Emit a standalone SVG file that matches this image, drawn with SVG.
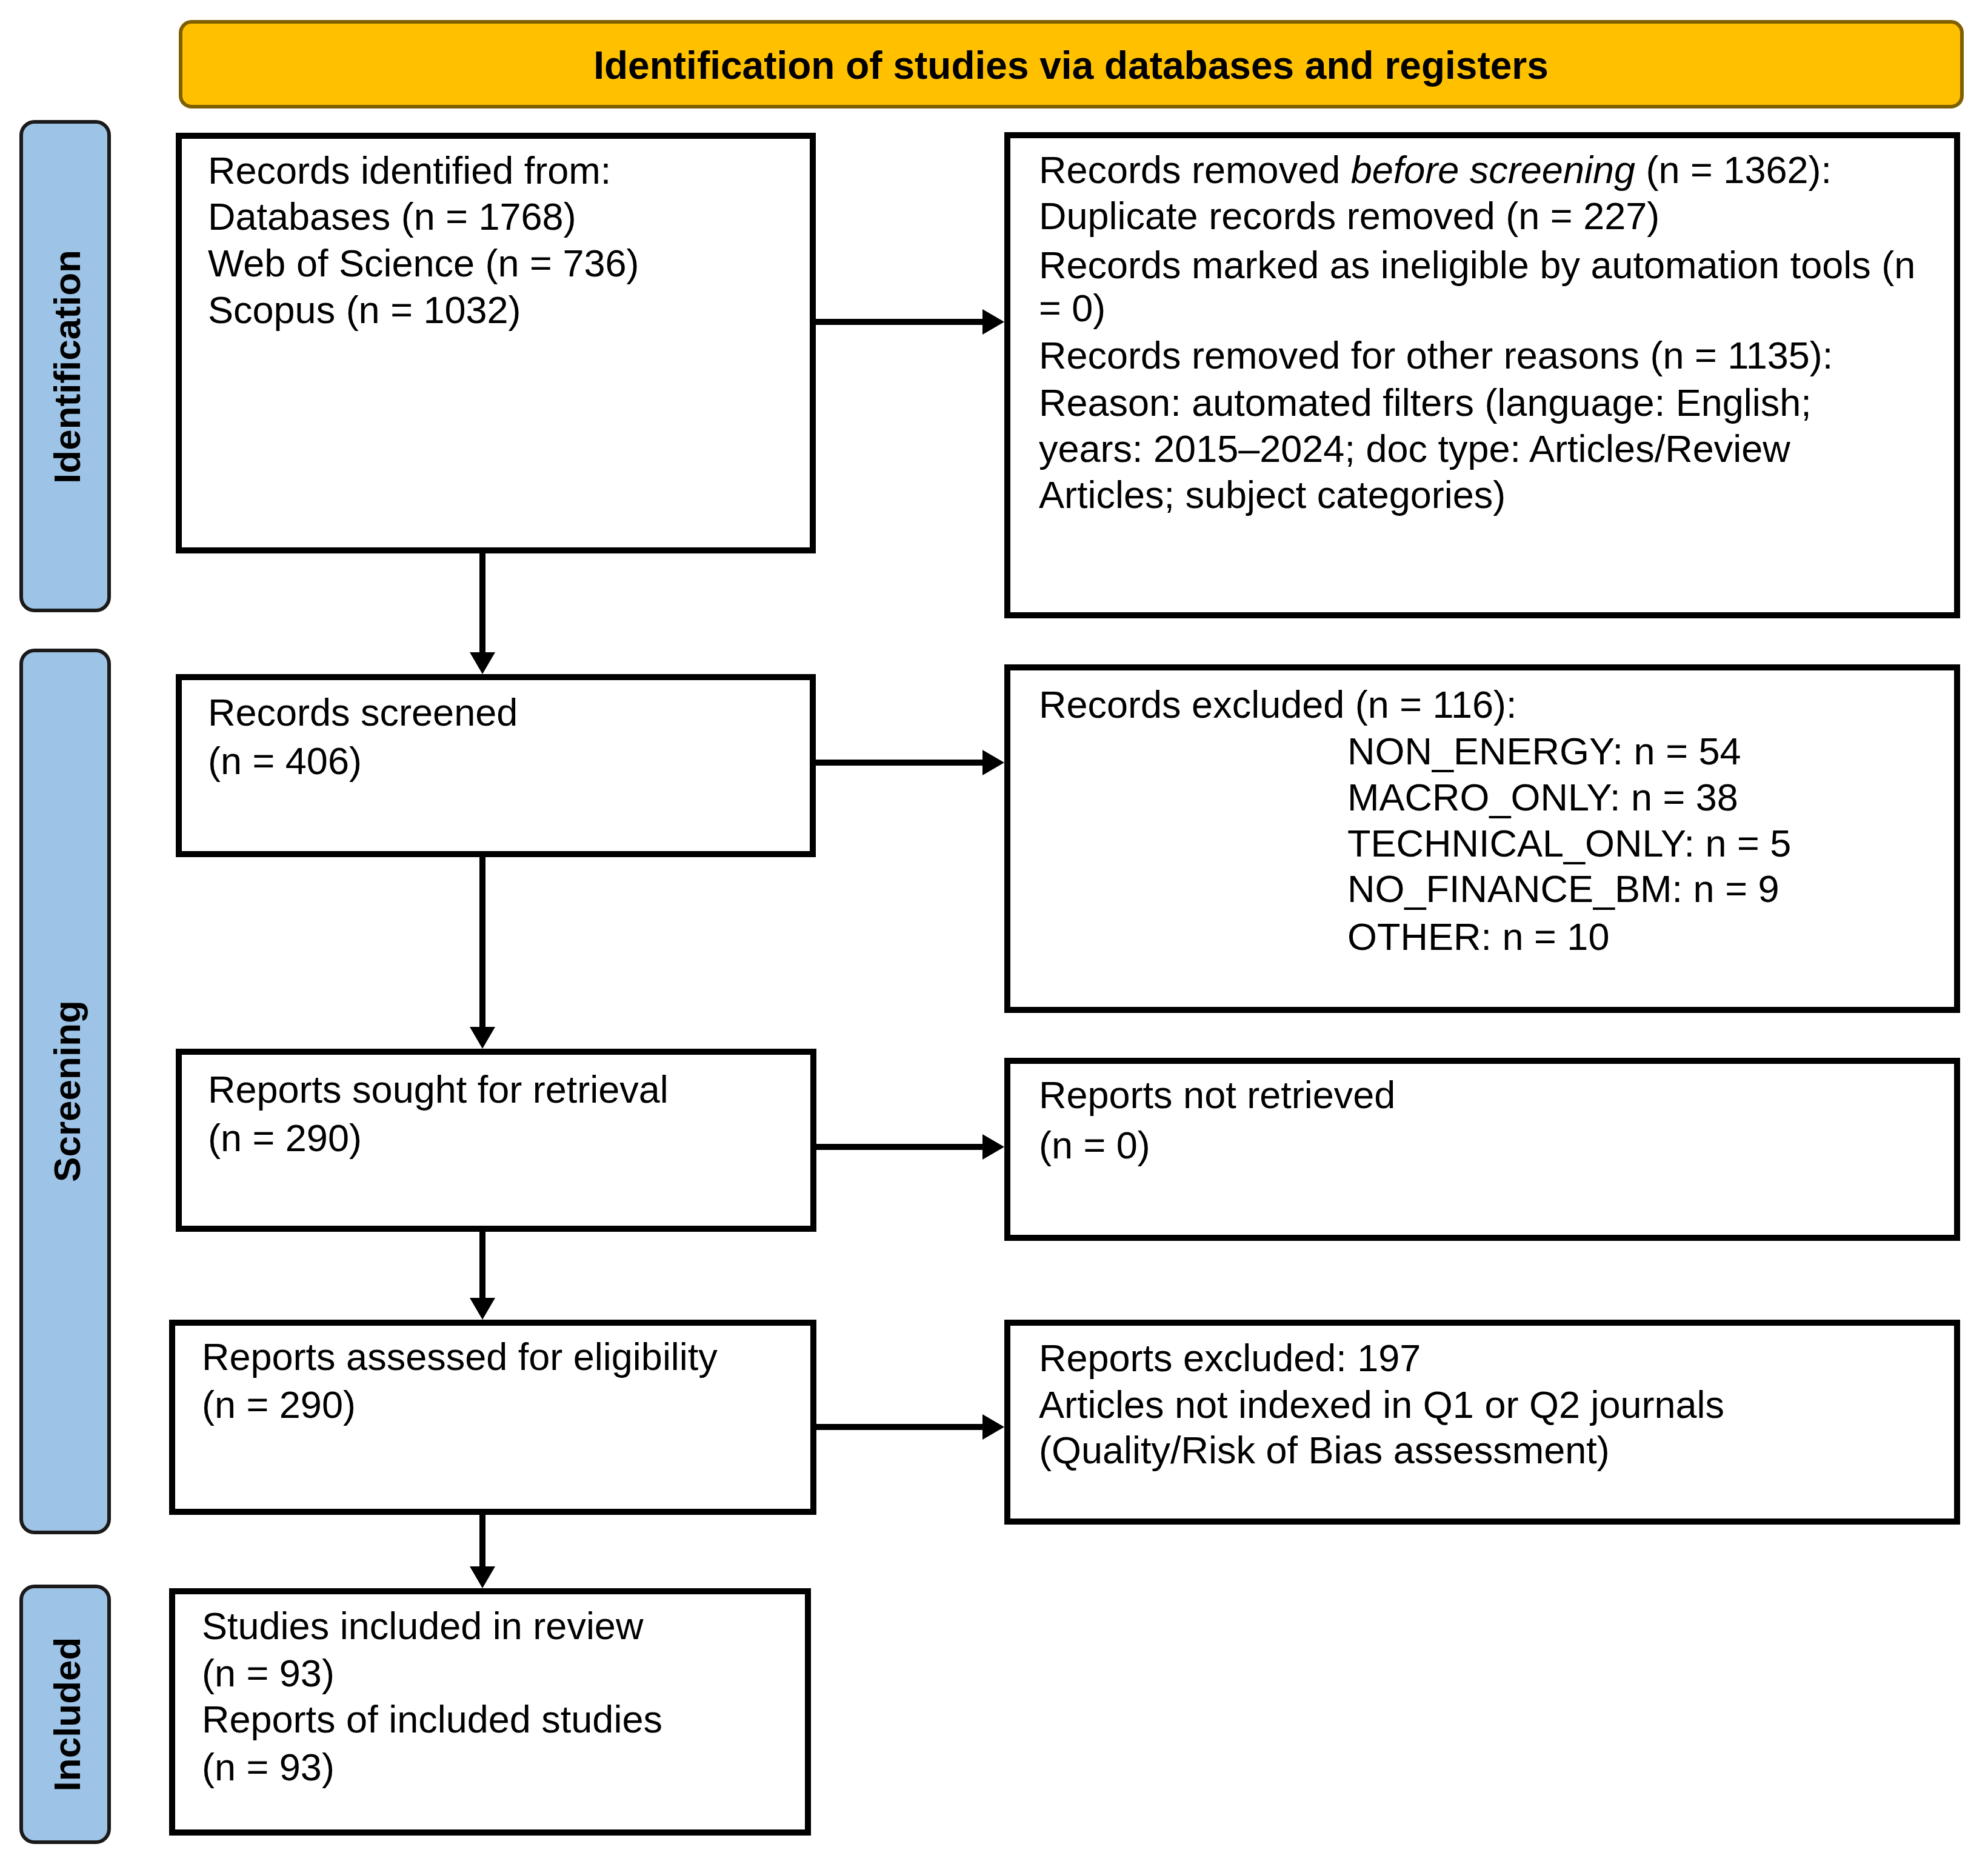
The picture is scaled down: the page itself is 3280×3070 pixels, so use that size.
<svg xmlns="http://www.w3.org/2000/svg" width="3280" height="3070" viewBox="0 0 3280 3070">
<style>
.box{fill:#fff;stroke:#000;stroke-width:10}
.side{fill:#9DC3E6;stroke:#1a1a1a;stroke-width:6}
.t{font-family:"Liberation Sans",Arial,sans-serif;font-size:63px;fill:#000}
.st{font-family:"Liberation Sans",Arial,sans-serif;font-size:62px;font-weight:bold;fill:#000;text-anchor:middle}
.hd{font-family:"Liberation Sans",Arial,sans-serif;font-size:64px;font-weight:bold;fill:#000;text-anchor:middle}
.ln{fill:none;stroke:#000;stroke-width:10}
</style>
<defs>
<marker id="arr" viewBox="0 0 36 42" refX="0" refY="21" markerWidth="36" markerHeight="42" markerUnits="userSpaceOnUse" orient="auto">
<path d="M0,0 L36,21 L0,42 Z" fill="#000"/>
</marker>
</defs>
<rect width="3280" height="3070" fill="#fff"/>

<g id="header">
<rect x="298" y="36" width="2939" height="140" rx="18" fill="#FFC000" stroke="#7F6000" stroke-width="6"/>
<text class="hd" x="1767" y="130">Identification of studies via databases and registers</text>
</g>

<g id="side-identification">
<rect class="side" x="35" y="201" width="145" height="806" rx="22"/>
<text class="st" transform="translate(132,605) rotate(-90)">Identification</text>
</g>
<g id="side-screening">
<rect class="side" x="35" y="1073" width="145" height="1455" rx="22"/>
<text class="st" transform="translate(132,1800) rotate(-90)">Screening</text>
</g>
<g id="side-included">
<rect class="side" x="35" y="2617" width="145" height="422" rx="22"/>
<text class="st" transform="translate(132,2828) rotate(-90)">Included</text>
</g>

<g id="records-identified">
<rect class="box" x="295" y="224" width="1046" height="684"/>
<text class="t" x="343" y="303">Records identified from:</text>
<text class="t" x="343" y="379">Databases (n = 1768)</text>
<text class="t" x="343" y="456">Web of Science (n = 736)</text>
<text class="t" x="343" y="533">Scopus (n = 1032)</text>
</g>

<g id="records-removed">
<rect class="box" x="1662" y="223" width="1567" height="792"/>
<text class="t" x="1714" y="302">Records removed <tspan font-style="italic">before screening</tspan> (n = 1362):</text>
<text class="t" x="1714" y="378">Duplicate records removed (n = 227)</text>
<text class="t" x="1714" y="459">Records marked as ineligible by automation tools (n</text>
<text class="t" x="1714" y="530">= 0)</text>
<text class="t" x="1714" y="608">Records removed for other reasons (n = 1135):</text>
<text class="t" x="1714" y="686">Reason: automated filters (language: English;</text>
<text class="t" x="1714" y="762">years: 2015–2024; doc type: Articles/Review</text>
<text class="t" x="1714" y="838">Articles; subject categories)</text>
</g>

<g id="records-screened">
<rect class="box" x="295" y="1117" width="1046" height="292"/>
<text class="t" x="343" y="1197">Records screened</text>
<text class="t" x="343" y="1277">(n = 406)</text>
</g>

<g id="records-excluded">
<rect class="box" x="1662" y="1101" width="1567" height="565"/>
<text class="t" x="1714" y="1184">Records excluded (n = 116):</text>
<text class="t" x="2223" y="1261">NON_ENERGY: n = 54</text>
<text class="t" x="2223" y="1337">MACRO_ONLY: n = 38</text>
<text class="t" x="2223" y="1413">TECHNICAL_ONLY: n = 5</text>
<text class="t" x="2223" y="1488">NO_FINANCE_BM: n = 9</text>
<text class="t" x="2223" y="1567">OTHER: n = 10</text>
</g>

<g id="reports-sought">
<rect class="box" x="295" y="1735" width="1047" height="292"/>
<text class="t" x="343" y="1819">Reports sought for retrieval</text>
<text class="t" x="343" y="1899">(n = 290)</text>
</g>

<g id="reports-not-retrieved">
<rect class="box" x="1662" y="1750" width="1567" height="292"/>
<text class="t" x="1714" y="1828">Reports not retrieved</text>
<text class="t" x="1714" y="1911">(n = 0)</text>
</g>

<g id="reports-assessed">
<rect class="box" x="284" y="2182" width="1058" height="312"/>
<text class="t" x="333" y="2260">Reports assessed for eligibility</text>
<text class="t" x="333" y="2339">(n = 290)</text>
</g>

<g id="reports-excluded">
<rect class="box" x="1662" y="2182" width="1567" height="328"/>
<text class="t" x="1714" y="2262">Reports excluded: 197</text>
<text class="t" x="1714" y="2339">Articles not indexed in Q1 or Q2 journals</text>
<text class="t" x="1714" y="2414">(Quality/Risk of Bias assessment)</text>
</g>

<g id="studies-included">
<rect class="box" x="284" y="2625" width="1049" height="398"/>
<text class="t" x="333" y="2704">Studies included in review</text>
<text class="t" x="333" y="2782">(n = 93)</text>
<text class="t" x="333" y="2858">Reports of included studies</text>
<text class="t" x="333" y="2937">(n = 93)</text>
</g>

<g id="connectors">
<path class="ln" d="M1341,531 H1621" marker-end="url(#arr)"/>
<path class="ln" d="M1341,1258 H1621" marker-end="url(#arr)"/>
<path class="ln" d="M1342,1892 H1621" marker-end="url(#arr)"/>
<path class="ln" d="M1342,2354 H1621" marker-end="url(#arr)"/>
<path class="ln" d="M796,908 V1076" marker-end="url(#arr)"/>
<path class="ln" d="M796,1409 V1694" marker-end="url(#arr)"/>
<path class="ln" d="M796,2027 V2141" marker-end="url(#arr)"/>
<path class="ln" d="M796,2494 V2584" marker-end="url(#arr)"/>
</g>
</svg>
